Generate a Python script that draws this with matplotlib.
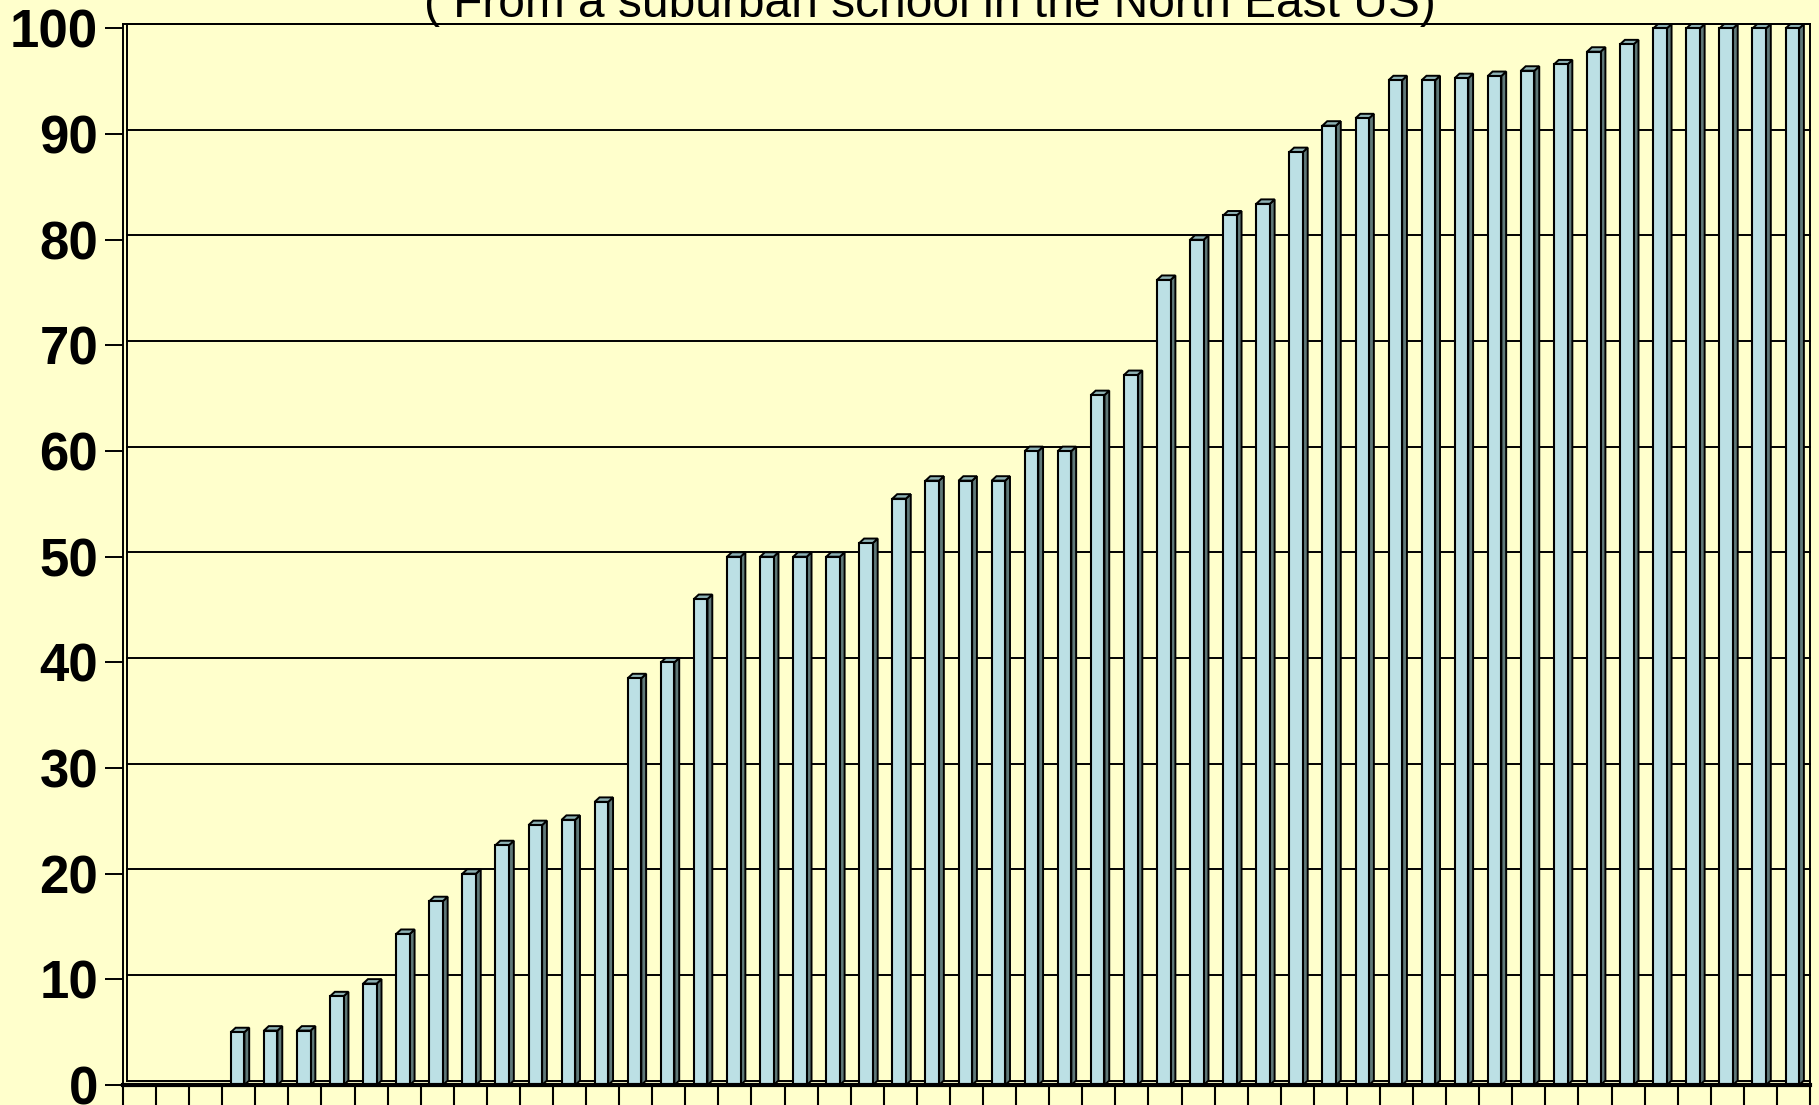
import matplotlib
matplotlib.use("Agg")
import matplotlib.pyplot as plt
from matplotlib.patches import Polygon

# ---- data ----
title = "( From a suburban school in the North East US)"
values = [0, 0, 0, 5.0, 5.15, 5.15, 8.4, 9.6, 14.3, 17.4, 20.0, 22.7, 24.6, 25.1, 26.8,
          38.5, 40.0, 46.0, 50, 50, 50, 50, 51.3, 55.5, 57.2, 57.2, 57.2, 60, 60,
          65.3, 67.2, 76.2, 80.0, 82.3, 83.4, 88.3, 90.8, 91.5, 95.1, 95.1, 95.3,
          95.5, 96.0, 96.6, 97.8, 98.5, 100, 100, 100, 100, 100]
ytick_vals = list(range(0, 101, 10))

BG = "#FFFFCC"
FRONT = "#BCE0E5"
SIDE = "#5F7878"
TOP = "#8EB2B5"

n = len(values)
fig = plt.figure(figsize=(18.19, 11.05), dpi=100, facecolor=BG)
ax = fig.add_axes([123 / 1819, 1 - 1085 / 1105, (1810 - 123) / 1819, (1085 - 24) / 1105])
ax.set_facecolor(BG)

dy = 0.42   # depth offset in value units
dx = 0.145  # depth offset in category units
fl, fr = 0.26, 0.67  # front face within category

ax.set_xlim(0, n)
ax.set_ylim(-dy, 100)

# gridlines on the back wall
for v in ytick_vals:
    ax.plot([0.12, n], [v, v], color="black", lw=1.4, zorder=1, clip_on=False)
ax.plot([0.12, 0.12], [0, 100], color="black", lw=1.4, zorder=1)

for i, v in enumerate(values):
    if v <= 0:
        continue
    xl, xr = i + fl, i + fr
    ax.bar(xl, v, width=xr - xl, bottom=-dy, align="edge", color=FRONT,
           edgecolor="black", linewidth=1.5, zorder=3)
    side = Polygon([(xr, -dy), (xr + dx, 0), (xr + dx, v), (xr, v - dy)],
                   closed=True, facecolor=SIDE, edgecolor="black", linewidth=1.4, zorder=2)
    ax.add_patch(side)
    top = Polygon([(xl, v - dy), (xr, v - dy), (xr + dx, v), (xl + dx, v)],
                  closed=True, facecolor=TOP, edgecolor="black", linewidth=1.4, zorder=2)
    ax.add_patch(top)

# axes styling
for s in ["top", "right", "left"]:
    ax.spines[s].set_linewidth(1.4)
ax.spines["bottom"].set_linewidth(3.0)
ax.spines["bottom"].set_zorder(5)

ax.set_xticks(range(0, n + 1))
ax.set_xticklabels([])
ax.tick_params(axis="x", direction="out", length=15, width=1.5, color="black")

ax.set_yticks([v - dy for v in ytick_vals])
ax.set_yticklabels([str(v) for v in ytick_vals], fontsize=38, fontweight="bold",
                   family=["Liberation Sans", "DejaVu Sans"])
ax.tick_params(axis="y", direction="out", length=13, width=1.4, pad=5, color="black")

fig.text(930 / 1819, 1 - 17 / 1105, title, ha="center", va="baseline", fontsize=34.5,
         family=["Liberation Sans", "DejaVu Sans"], color="black")

fig.savefig("out.png", dpi=100, facecolor=BG)
